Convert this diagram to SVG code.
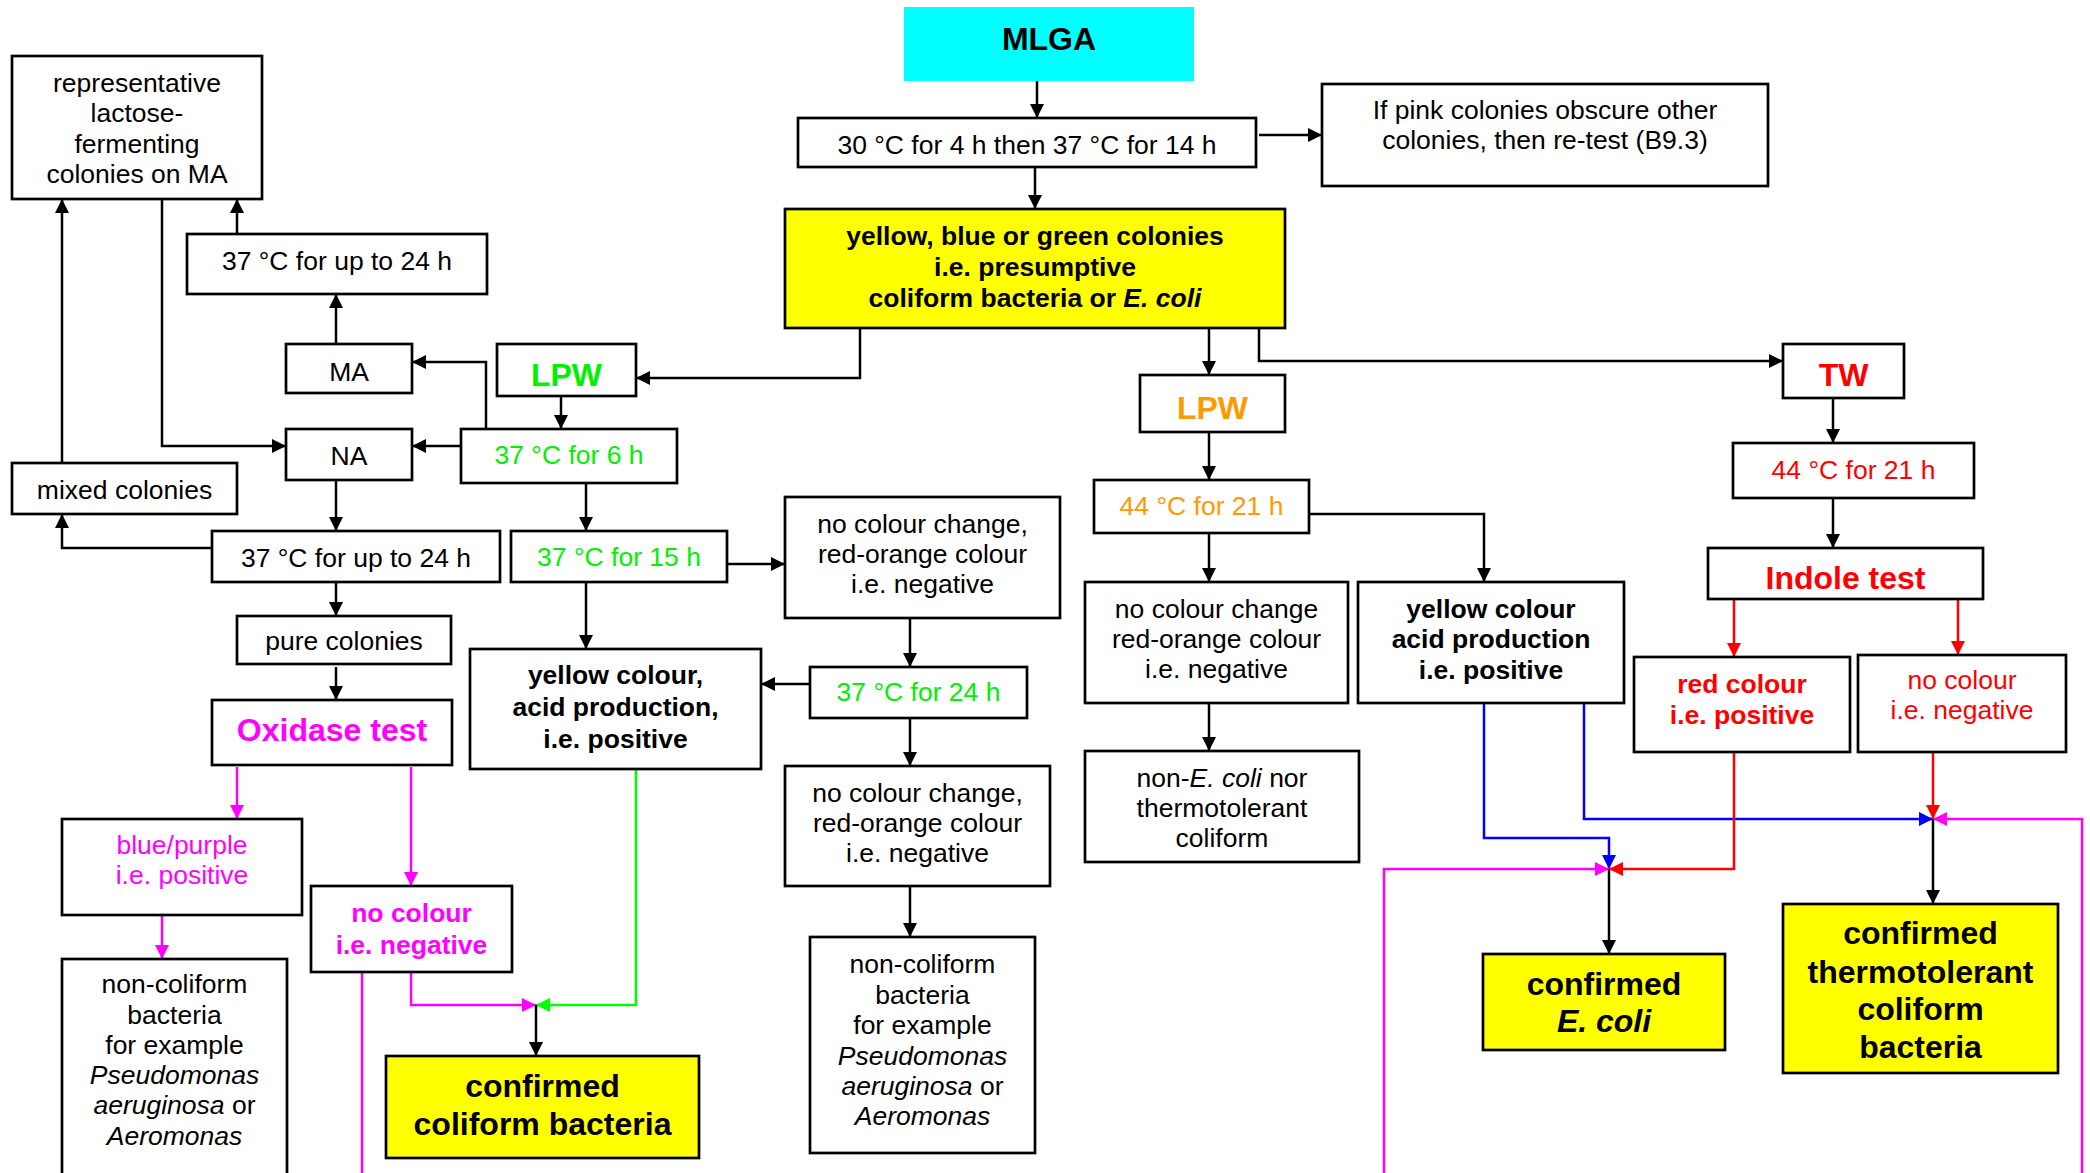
<svg xmlns="http://www.w3.org/2000/svg" width="2090" height="1173" viewBox="0 0 2090 1173">
<style>
text{font-family:"Liberation Sans",Arial,sans-serif;font-size:26.5px;text-anchor:middle;fill:#000}
.b{font-weight:bold}
.big{font-weight:bold;font-size:32px}
.i{font-style:italic}
.g{fill:#00f000}.o{fill:#ff9900}.r{fill:#ff0000}.m{fill:#ff00ff}
rect{fill:#fff;stroke:#000;stroke-width:2.7}
rect.y{fill:#ffff00}
rect.c{fill:#00ffff;stroke:none}
.cn path{fill:none;stroke-width:2.5}
.k{stroke:#000}.lm{stroke:#ff00ff}.lg{stroke:#00ff00}.lb{stroke:#0000ff}.lr{stroke:#ff0000}
</style>
<defs>
<marker id="ak" viewBox="0 0 10 10" refX="10" refY="5" markerWidth="15" markerHeight="14" markerUnits="userSpaceOnUse" orient="auto"><path d="M0,0L10,5L0,10z" fill="#000"/></marker>
<marker id="am" viewBox="0 0 10 10" refX="10" refY="5" markerWidth="15" markerHeight="14" markerUnits="userSpaceOnUse" orient="auto"><path d="M0,0L10,5L0,10z" fill="#ff00ff"/></marker>
<marker id="ag" viewBox="0 0 10 10" refX="10" refY="5" markerWidth="15" markerHeight="14" markerUnits="userSpaceOnUse" orient="auto"><path d="M0,0L10,5L0,10z" fill="#00ff00"/></marker>
<marker id="ab" viewBox="0 0 10 10" refX="10" refY="5" markerWidth="15" markerHeight="14" markerUnits="userSpaceOnUse" orient="auto"><path d="M0,0L10,5L0,10z" fill="#0000ff"/></marker>
<marker id="ar" viewBox="0 0 10 10" refX="10" refY="5" markerWidth="15" markerHeight="14" markerUnits="userSpaceOnUse" orient="auto"><path d="M0,0L10,5L0,10z" fill="#ff0000"/></marker>
</defs>
<rect x="0" y="0" width="2090" height="1173" style="fill:#fff;stroke:none"/>

<g class="cn" id="connectors">
<path class="k" marker-end="url(#ak)" d="M1037,81V118"/>
<path class="k" marker-end="url(#ak)" d="M1035,167V209"/>
<path class="k" marker-end="url(#ak)" d="M1259,135H1322"/>
<path class="k" marker-end="url(#ak)" d="M860,328V378H636"/>
<path class="k" marker-end="url(#ak)" d="M1209,328V375"/>
<path class="k" marker-end="url(#ak)" d="M1259,328V361H1783"/>
<path class="k" marker-end="url(#ak)" d="M561,396V429"/>
<path class="k" marker-end="url(#ak)" d="M486,429V362H412"/>
<path class="k" marker-end="url(#ak)" d="M461,446H412"/>
<path class="k" marker-end="url(#ak)" d="M586,483V531"/>
<path class="k" marker-end="url(#ak)" d="M162,199V446H286"/>
<path class="k" marker-end="url(#ak)" d="M336,344V294"/>
<path class="k" marker-end="url(#ak)" d="M237,234V199"/>
<path class="k" marker-end="url(#ak)" d="M62,463V199"/>
<path class="k" marker-end="url(#ak)" d="M336,480V531"/>
<path class="k" marker-end="url(#ak)" d="M212,548H62V514"/>
<path class="k" marker-end="url(#ak)" d="M336,582V616"/>
<path class="k" marker-end="url(#ak)" d="M336,667V700"/>
<path class="lm" marker-end="url(#am)" d="M237,767V819"/>
<path class="lm" marker-end="url(#am)" d="M411,767V886"/>
<path class="lm" marker-end="url(#am)" d="M162,915V959"/>
<path class="lm" marker-end="url(#am)" d="M411,972V1005H536"/>
<path class="lm" d="M362,972V1180"/>
<path class="lg" marker-end="url(#ag)" d="M636,769V1005H536"/>
<path class="k" marker-end="url(#ak)" d="M536,1005V1056"/>
<path class="k" marker-end="url(#ak)" d="M727,564H785"/>
<path class="k" marker-end="url(#ak)" d="M586,582V649"/>
<path class="k" marker-end="url(#ak)" d="M910,618V667"/>
<path class="k" marker-end="url(#ak)" d="M810,684H761"/>
<path class="k" marker-end="url(#ak)" d="M910,718V766"/>
<path class="k" marker-end="url(#ak)" d="M910,886V937"/>
<path class="k" marker-end="url(#ak)" d="M1209,432V480"/>
<path class="k" marker-end="url(#ak)" d="M1209,533V582"/>
<path class="k" marker-end="url(#ak)" d="M1309,514H1484V582"/>
<path class="k" marker-end="url(#ak)" d="M1209,703V751"/>
<path class="lb" marker-end="url(#ab)" d="M1484,703V838H1609V869"/>
<path class="lb" marker-end="url(#ab)" d="M1584,703V819H1933"/>
<path class="lr" marker-end="url(#ar)" d="M1734,752V869H1609"/>
<path class="lr" marker-end="url(#ar)" d="M1933,752V819"/>
<path class="lm" marker-end="url(#am)" d="M1384,1180V869H1609"/>
<path class="lm" marker-end="url(#am)" d="M2082,1180V819H1933"/>
<path class="k" marker-end="url(#ak)" d="M1609,869V954"/>
<path class="k" marker-end="url(#ak)" d="M1933,819V904"/>
<path class="k" marker-end="url(#ak)" d="M1833,398V443"/>
<path class="k" marker-end="url(#ak)" d="M1833,498V548"/>
<path class="lr" marker-end="url(#ar)" d="M1734,599V657"/>
<path class="lr" marker-end="url(#ar)" d="M1958,599V655"/>
</g>

<g id="rep"><rect x="12" y="56" width="250" height="143"/>
<text x="137" y="92">representative</text><text x="137" y="122">lactose-</text><text x="137" y="152.5">fermenting</text><text x="137" y="183">colonies on MA</text></g>
<g id="t24a"><rect x="187" y="234" width="300" height="60"/><text x="337" y="270">37 °C for up to 24 h</text></g>
<g id="ma"><rect x="286" y="344" width="126" height="49"/><text x="349" y="381">MA</text></g>
<g id="na"><rect x="286" y="429" width="126" height="51"/><text x="349" y="465">NA</text></g>
<g id="mixed"><rect x="12" y="463" width="225" height="51"/><text x="124.5" y="499">mixed colonies</text></g>
<g id="t24b"><rect x="212" y="531" width="288" height="51"/><text x="356" y="567">37 °C for up to 24 h</text></g>
<g id="pure"><rect x="237" y="616" width="214" height="48"/><text x="344" y="650">pure colonies</text></g>
<g id="oxidase"><rect x="212" y="700" width="240" height="65"/><text class="big m" x="332" y="741">Oxidase test</text></g>
<g id="bluepurple"><rect x="62" y="819" width="240" height="96"/><text class="m" x="182" y="854">blue/purple</text><text class="m" x="182" y="884">i.e. positive</text></g>
<g id="noncoli1"><rect x="62" y="959" width="225" height="240"/>
<text x="174.5" y="993">non-coliform</text><text x="174.5" y="1023.5">bacteria</text><text x="174.5" y="1054">for example</text><text class="i" x="174.5" y="1084">Pseudomonas</text><text x="174.5" y="1114"><tspan class="i">aeruginosa</tspan> or</text><text class="i" x="174.5" y="1145">Aeromonas</text></g>
<g id="nocolmag"><rect x="311" y="886" width="201" height="86"/><text class="b m" x="411.5" y="922">no colour</text><text class="b m" x="411.5" y="954">i.e. negative</text></g>
<g id="confcol"><rect class="y" x="386" y="1056" width="313" height="102"/><text class="big" x="542.5" y="1097">confirmed</text><text class="big" x="542.5" y="1135">coliform bacteria</text></g>
<g id="lpwg"><rect x="497" y="344" width="139" height="52"/><text class="big g" x="566.5" y="386">LPW</text></g>
<g id="t6"><rect x="461" y="429" width="216" height="54"/><text class="g" x="569" y="464">37 °C for 6 h</text></g>
<g id="t15"><rect x="511" y="531" width="216" height="51"/><text class="g" x="619" y="566">37 °C for 15 h</text></g>
<g id="ncc1"><rect x="785" y="497" width="275" height="121"/><text x="922.5" y="533">no colour change,</text><text x="922.5" y="563">red-orange colour</text><text x="922.5" y="593">i.e. negative</text></g>
<g id="yca1"><rect x="470" y="649" width="291" height="120"/><text class="b" x="615.5" y="684">yellow colour,</text><text class="b" x="615.5" y="716">acid production,</text><text class="b" x="615.5" y="748">i.e. positive</text></g>
<g id="t24c"><rect x="810" y="667" width="217" height="51"/><text class="g" x="918.5" y="701">37 °C for 24 h</text></g>
<g id="ncc2"><rect x="785" y="766" width="265" height="120"/><text x="917.5" y="802">no colour change,</text><text x="917.5" y="832">red-orange colour</text><text x="917.5" y="862">i.e. negative</text></g>
<g id="noncoli2"><rect x="810" y="937" width="225" height="216"/>
<text x="922.5" y="973">non-coliform</text><text x="922.5" y="1004">bacteria</text><text x="922.5" y="1034">for example</text><text class="i" x="922.5" y="1065">Pseudomonas</text><text x="922.5" y="1095"><tspan class="i">aeruginosa</tspan> or</text><text class="i" x="922.5" y="1125">Aeromonas</text></g>
<g id="mlga"><rect class="c" x="904" y="7" width="290" height="74"/><text class="big" x="1049" y="50">MLGA</text></g>
<g id="t30"><rect x="798" y="118" width="458" height="49"/><text x="1027" y="154">30 °C for 4 h then 37 °C for 14 h</text></g>
<g id="ifpink"><rect x="1322" y="84" width="446" height="102"/><text x="1545" y="119">If pink colonies obscure other</text><text x="1545" y="149">colonies, then re-test (B9.3)</text></g>
<g id="presumptive"><rect class="y" x="785" y="209" width="500" height="119"/><text class="b" x="1035" y="245">yellow, blue or green colonies</text><text class="b" x="1035" y="276">i.e. presumptive</text><text class="b" x="1035" y="307">coliform bacteria or <tspan class="i">E. coli</tspan></text></g>
<g id="lpwo"><rect x="1140" y="375" width="145" height="57"/><text class="big o" x="1212.5" y="419">LPW</text></g>
<g id="t44o"><rect x="1094" y="480" width="215" height="53"/><text class="o" x="1201.5" y="515">44 °C for 21 h</text></g>
<g id="ncc3"><rect x="1085" y="582" width="263" height="121"/><text x="1216.5" y="618">no colour change</text><text x="1216.5" y="648">red-orange colour</text><text x="1216.5" y="678">i.e. negative</text></g>
<g id="yca2"><rect x="1358" y="582" width="266" height="121"/><text class="b" x="1491" y="618">yellow colour</text><text class="b" x="1491" y="648">acid production</text><text class="b" x="1491" y="679">i.e. positive</text></g>
<g id="nonecoli"><rect x="1085" y="751" width="274" height="111"/><text x="1222" y="787">non-<tspan class="i">E. coli</tspan> nor</text><text x="1222" y="817">thermotolerant</text><text x="1222" y="847">coliform</text></g>
<g id="tw"><rect x="1783" y="344" width="121" height="54"/><text class="big r" x="1843.5" y="386">TW</text></g>
<g id="t44r"><rect x="1733" y="443" width="241" height="55"/><text class="r" x="1853.5" y="479">44 °C for 21 h</text></g>
<g id="indole"><rect x="1708" y="548" width="275" height="51"/><text class="big r" x="1845.5" y="589">Indole test</text></g>
<g id="redcol"><rect x="1634" y="657" width="216" height="95"/><text class="b r" x="1742" y="693">red colour</text><text class="b r" x="1742" y="724">i.e. positive</text></g>
<g id="nocolred"><rect x="1858" y="655" width="208" height="97"/><text class="r" x="1962" y="689">no colour</text><text class="r" x="1962" y="719">i.e. negative</text></g>
<g id="confecoli"><rect class="y" x="1483" y="954" width="242" height="96"/><text class="big" x="1604" y="995">confirmed</text><text class="big i" x="1604" y="1032">E. coli</text></g>
<g id="conftherm"><rect class="y" x="1783" y="904" width="275" height="169"/><text class="big" x="1920.5" y="944">confirmed</text><text class="big" x="1920.5" y="983">thermotolerant</text><text class="big" x="1920.5" y="1020">coliform</text><text class="big" x="1920.5" y="1058">bacteria</text></g>
</svg>
